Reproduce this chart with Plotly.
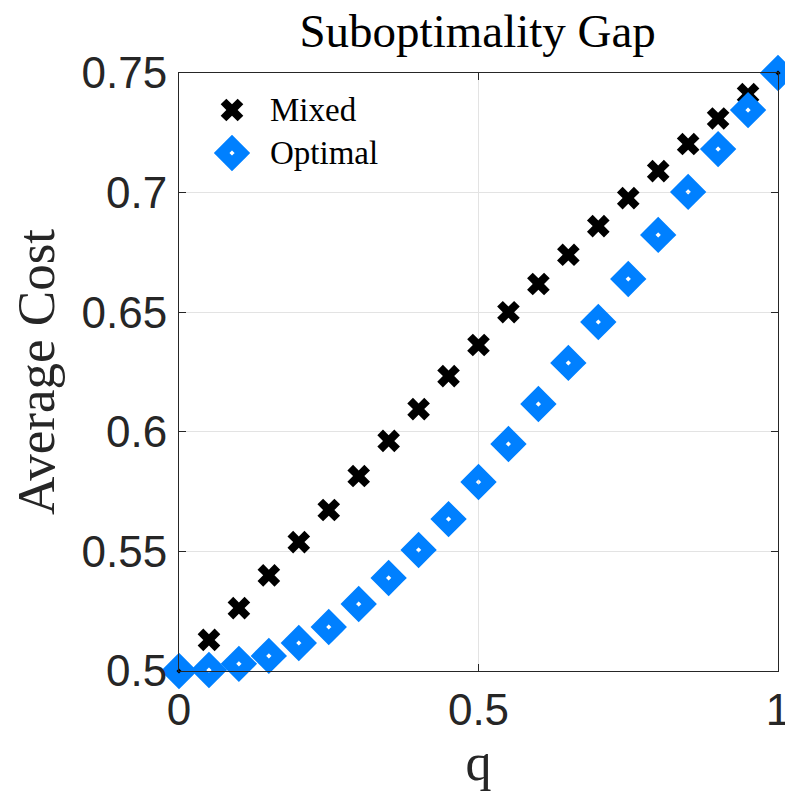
import plotly.graph_objects as go

q = [round(0.05 * i, 2) for i in range(21)]
mixed = [0.5, 0.513, 0.5263, 0.540, 0.5539, 0.5673, 0.5815, 0.5962, 0.6095, 0.6233,
         0.6363, 0.650, 0.6618, 0.674, 0.686, 0.6977, 0.709, 0.7203, 0.731, 0.7412, 0.75]
optimal = [0.5, 0.5004, 0.503, 0.5063, 0.5117, 0.5184, 0.528, 0.5389, 0.5506, 0.5635,
           0.579, 0.5949, 0.6116, 0.6288, 0.6459, 0.6639, 0.6823, 0.7003, 0.7182, 0.7345, 0.75]
series_names = ["Mixed", "Optimal"]

serif = "Liberation Serif"
sans = "Liberation Sans"
dark = "#262626"
blue = "#0080ff"

mixed_marker = dict(symbol="x", size=20, color="black", line=dict(width=0))
opt_marker = dict(symbol="diamond-open", size=16, color=blue, line=dict(width=11, color=blue))

fig = go.Figure()
fig.add_trace(go.Scatter(x=q, y=mixed, mode="markers", name=series_names[0],
                         cliponaxis=False, marker=mixed_marker, showlegend=False))
fig.add_trace(go.Scatter(x=q, y=optimal, mode="markers", name=series_names[1],
                         cliponaxis=False, marker=opt_marker, showlegend=False))

# legend swatches drawn on an overlay axis measured in pixels from the plot's top-left
fig.add_trace(go.Scatter(x=[53], y=[37], mode="markers", xaxis="x2", yaxis="y2",
                         marker=mixed_marker, showlegend=False, hoverinfo="skip", cliponaxis=False))
fig.add_trace(go.Scatter(x=[53], y=[80], mode="markers", xaxis="x2", yaxis="y2",
                         marker=opt_marker, showlegend=False, hoverinfo="skip", cliponaxis=False))
for yy, name in zip([37, 80], series_names):
    fig.add_annotation(x=89, y=yy, xref="x2", yref="y2", text=name, showarrow=False,
                       xanchor="left", yanchor="middle",
                       font=dict(family=serif, size=33, color="black"))

axis_common = dict(
    showline=True, linecolor=dark, linewidth=1, mirror="ticks",
    ticks="inside", ticklen=7, tickcolor=dark, tickwidth=1,
    showgrid=True, gridcolor="#e3e3e3", gridwidth=1, zeroline=False,
    tickfont=dict(family=sans, size=44, color=dark),
    ticklabeloverflow="allow", automargin=False,
)
fig.update_layout(
    xaxis=dict(range=[0, 1], tickvals=[0, 0.5, 1], ticktext=["0", "0.5", "1"],
               title=dict(text="q", font=dict(family=serif, size=52, color=dark), standoff=4),
               **axis_common),
    yaxis=dict(range=[0.5, 0.75], tickvals=[0.5, 0.55, 0.6, 0.65, 0.7, 0.75],
               ticktext=["0.5", "0.55", "0.6", "0.65", "0.7", "0.75"],
               ticklabelstandoff=2,
               title=dict(text="Average Cost", font=dict(family=serif, size=53, color=dark), standoff=10),
               **axis_common),
    xaxis2=dict(range=[0, 599], overlaying="x", anchor="y2", visible=False, fixedrange=True),
    yaxis2=dict(range=[598, 0], overlaying="y", anchor="x2", visible=False, fixedrange=True),
    width=785, height=791,
    margin=dict(l=179, r=7, t=73, b=120, autoexpand=False),
    plot_bgcolor="white", paper_bgcolor="white",
    title=dict(text="Suboptimality Gap", x=0.6085, xanchor="center", y=0.962, yanchor="middle",
               font=dict(family=serif, size=47, color="black")),
    showlegend=False,
)

fig.write_html("out.html")
